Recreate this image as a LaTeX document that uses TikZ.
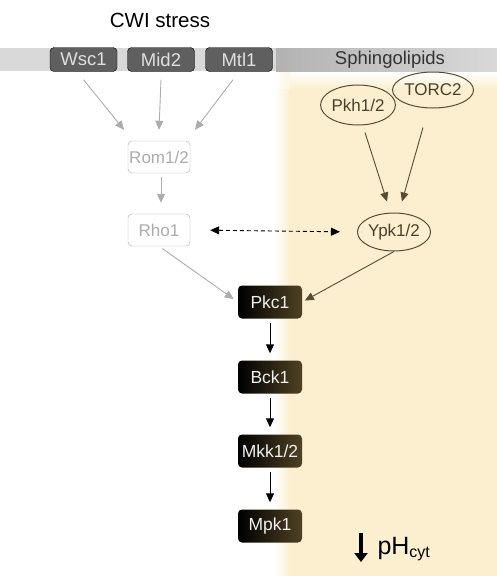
\documentclass[tikz,border=0pt]{standalone}
\usepackage{fontspec}
\setmainfont{Liberation Sans}
\usetikzlibrary{arrows.meta,positioning,shapes.geometric,calc}
\definecolor{membrane}{HTML}{D9D9D9}
\definecolor{membdark}{HTML}{B2B2B2}
\definecolor{sensorgrey}{HTML}{5F5F5F}
\definecolor{cytosol}{HTML}{FCEFCF}
\definecolor{faded}{HTML}{ACACAC}
\definecolor{sphingo}{HTML}{574C33}
\definecolor{kinaseolive}{HTML}{4F4124}

\begin{document}
\begin{tikzpicture}[x=1pt,y=-1pt,
    sensorbox/.style={draw=black, fill=sensorgrey, rounded corners=4pt, minimum width=67pt, minimum height=24pt, inner sep=0pt, text=white!88!black, font=\fontsize{18.5}{21}\selectfont},
    fadedbox/.style={draw=faded, fill=white, rounded corners=4pt, minimum width=62pt, minimum height=32pt, inner sep=0pt, text=faded, font=\fontsize{17}{20}\selectfont},
    kinasebox/.style={rounded corners=4pt, left color=black, middle color=black, right color=kinaseolive, minimum width=64pt, minimum height=33pt, inner sep=0pt, text=white!94!black, font=\fontsize{17.5}{20}\selectfont},
    lipidnode/.style={draw=sphingo, line width=1pt, ellipse, inner sep=0pt, text=sphingo!85!black, font=\fontsize{17}{20}\selectfont},
    fadedarrow/.style={draw=faded, line width=0.9pt, -{Triangle[length=9pt,width=8pt]}},
    lipidarrow/.style={draw=sphingo, line width=0.9pt, -{Triangle[length=9pt,width=8pt]}},
    cascade/.style={draw=black, line width=0.9pt, -{Triangle[length=9pt,width=8pt]}}]
  \useasboundingbox (0,0) rectangle (497,576);

  % cytosol region on the right
  \fill[cytosol] (290,88) rectangle (497,576);
  \shade[left color=white, right color=cytosol] (274,88) rectangle (290,576);
  \shade[top color=white, bottom color=cytosol] (290,72) rectangle (497,88);
  \shade[top color=white, bottom color=white, right color=cytosol!60] (274,72) rectangle (290,88);

  % membrane
  \fill[membrane] (0,48) rectangle (276,71);
  \shade[left color=membdark, right color=membrane] (276,48) rectangle (497,71);

  \node (cwi) at (160,20) {\fontsize{20.5}{24}\selectfont CWI stress};
  \node[text=black!80] (sphingolipids) at (390,60) {\fontsize{18.5}{21}\selectfont Sphingolipids};

  \node[sensorbox] (Wsc1) at (83.5,59.5) {Wsc1};
  \node[sensorbox] (Mid2) at (161,59.5) {Mid2};
  \node[sensorbox] (Mtl1) at (239,59.5) {Mtl1};

  \node[fadedbox] (Rom) at (159,157) {Rom1/2};
  \node[fadedbox] (Rho) at (159,230) {Rho1};

  \node[lipidnode, minimum width=70pt, minimum height=40pt] (Pkh) at (358,105) {Pkh1/2};
  \node[lipidnode, minimum width=73pt, minimum height=36pt] (TORC) at (433,90) {TORC2};
  \node[lipidnode, minimum width=68pt, minimum height=38pt] (Ypk) at (394,232) {Ypk1/2};

  \node[kinasebox] (Pkc) at (270,302) {Pkc1};
  \node[kinasebox] (Bck) at (270,377) {Bck1};
  \node[kinasebox] (Mkk) at (270,451) {Mkk1/2};
  \node[kinasebox] (Mpk) at (270,526) {Mpk1};

  \node[anchor=base west] (pH) at (374,554) {\fontsize{25}{29}\selectfont pH\textsubscript{\fontsize{16}{18}\selectfont cyt}};
  \coordinate (phtop) at (361,533);
  \coordinate (phbot) at (361,562);

  % CWI branch
  \draw[fadedarrow] ($(Wsc1.south)+(0,8)$) -- ($(Rom.north)+(-35,-11)$);
  \draw[fadedarrow] ($(Mid2.south)+(0,8)$) -- ($(Rom.north)+(0,-11)$);
  \draw[fadedarrow] ($(Mtl1.south)+(-6,8)$) -- ($(Rom.north)+(36,-11)$);
  \draw[fadedarrow, shorten <=4pt, shorten >=11pt] ($(Rom.south)+(2,0)$) -- ($(Rho.north)+(2,0)$);
  \draw[fadedarrow, shorten <=4pt, shorten >=5pt] (Rho.south) -- (Pkc.west);

  % sphingolipid branch
  \draw[lipidarrow] ($(Pkh.south)+(7,7)$) -- ($(Ypk.north)+(-7,-11)$);
  \draw[lipidarrow] ($(TORC.south)+(-10,19)$) -- ($(Ypk.north)+(8,-11)$);
  \draw[lipidarrow, shorten >=3pt] (Ypk.south) -- (Pkc.east);

  \draw[black, line width=0.9pt, dash pattern=on 4pt off 3pt, {Triangle[length=9pt,width=8pt]}-{Triangle[length=9pt,width=8pt]}, shorten <=20pt, shorten >=17pt] (Rho.east) -- (Ypk.west);

  % MAPK cascade
  \draw[cascade, shorten <=4pt, shorten >=7pt] (Pkc) -- (Bck);
  \draw[cascade, shorten <=4pt, shorten >=7pt] (Bck) -- (Mkk);
  \draw[cascade, shorten <=4pt, shorten >=7pt] (Mkk) -- (Mpk);

  \draw[black, line width=4pt, -{Triangle[length=9pt,width=13pt]}] (phtop) -- (phbot);
\end{tikzpicture}
\end{document}
